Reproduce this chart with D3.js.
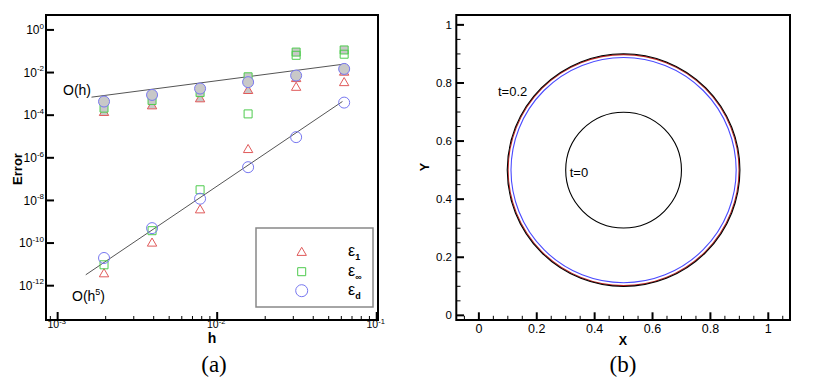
<!DOCTYPE html>
<html><head><meta charset="utf-8">
<script src="https://cdn.jsdelivr.net/npm/d3@7"></script>
<style>body{margin:0;background:#fff}svg{display:block}text{font-family:"Liberation Sans",Arial,sans-serif}text.serif{font-family:"Liberation Serif","Times New Roman",serif}</style>
</head><body>
<svg id="c" width="830" height="389"></svg>
<script>
// ---------- data: panel (a) ----------
const hValues = [1/512, 1/256, 1/128, 1/64, 1/32, 1/16];
// upper group (gray filled), log10 of error
const upperE1 = [-3.84, -3.53, -3.20, -2.81, -2.25, -1.95];
const upperEinf = [-3.67, -3.31, -2.94, -2.20, -1.04, -0.94];
const upperEd = [-3.36, -3.05, -2.75, -2.45, -2.14, -1.83];
// lower group (open markers), log10 of error
const lowerE1 = [-11.41, -9.97, -8.41, -5.58, -2.66, -2.44];
const lowerEinf = [-11.02, -9.42, -7.50, -3.94, -1.19, -1.14];
const lowerEd = [-10.70, -9.30, -7.92, -6.44, -5.03, -3.41];
// reference slope lines [h, error]
const lineOh = [[0.00163, 7.0e-4], [0.064, 2.55e-2]];
const lineOh5 = [[0.0015, 3.24e-12], [0.061, 4.4e-4]];
const yTickExp = [0, -2, -4, -6, -8, -10, -12];
const xTickExp = [-3, -2, -1];
const legendLabels = [["ε", "1"], ["ε", "∞"], ["ε", "d"]];
// ---------- data: panel (b) ----------
const circles = [
  {label: "t=0", cx: 0.5, cy: 0.5, r: 0.2, color: "#000"},
  {label: "t=0.2 red", cx: 0.5, cy: 0.5, r: 0.399, color: "#c02020"},
  {label: "t=0.2 black", cx: 0.5, cy: 0.5, r: 0.402, color: "#000"},
  {label: "t=0.2 blue", cx: 0.5, cy: 0.5, r: 0.389, color: "#4a4aff"}
];
const bTicks = [0, 0.2, 0.4, 0.6, 0.8, 1];
const bTickLabels = ["0", "0.2", "0.4", "0.6", "0.8", "1"];

const svg = d3.select("#c");
const colors = {tri: "#e05a5a", sq: "#4ecb4e", circ: "#7878f0"};
const gray = "#c8c8c8";

// ================= Panel (a) =================
const ax = d3.scaleLog().domain([Math.pow(10, -3.073), Math.pow(10, -0.992)]).range([46, 378]);
const ay = d3.scaleLog().domain([Math.pow(10, -13.61), Math.pow(10, 0.70)]).range([320, 15]);
const A = svg.append("g");

A.append("defs").append("clipPath").attr("id", "clipA")
  .append("rect").attr("x", 46).attr("y", 15).attr("width", 332).attr("height", 305);

A.append("rect").attr("x", 46).attr("y", 15).attr("width", 332).attr("height", 305)
  .attr("fill", "none").attr("stroke", "#000").attr("stroke-width", 2);

yTickExp.forEach(e => {
  const y = ay(Math.pow(10, e));
  A.append("line").attr("x1", 46).attr("x2", 54).attr("y1", y).attr("y2", y).attr("stroke", "#000").attr("stroke-width", 2);
  const t = A.append("text").attr("x", 44).attr("y", y + 4.3).attr("text-anchor", "end").attr("font-size", 12);
  t.append("tspan").text("10");
  t.append("tspan").attr("dy", -5.5).attr("font-size", 8).text(String(e));
});
const xMinor = [];
for (let e = -4; e <= -1; e++) for (let m = 2; m <= 9; m++) {
  const v = m * Math.pow(10, e);
  if (v >= ax.domain()[0] && v <= ax.domain()[1]) xMinor.push(v);
}
xMinor.forEach(v => {
  const x = ax(v);
  A.append("line").attr("x1", x).attr("x2", x).attr("y1", 320).attr("y2", 316).attr("stroke", "#000").attr("stroke-width", 1);
});
xTickExp.forEach(e => {
  const x = ax(Math.pow(10, e));
  A.append("line").attr("x1", x).attr("x2", x).attr("y1", 320).attr("y2", 312).attr("stroke", "#000").attr("stroke-width", 2);
  const t = A.append("text").attr("x", x - 1).attr("y", 328).attr("text-anchor", "middle").attr("font-size", 10.5);
  t.append("tspan").text("10");
  t.append("tspan").attr("dy", -4.5).attr("font-size", 7.5).text(String(e));
});

A.append("text").attr("transform", "translate(22,169) rotate(-90)").attr("text-anchor", "middle")
  .attr("font-size", 13).attr("font-weight", "bold").text("Error");
A.append("text").attr("x", 212).attr("y", 342.5).attr("text-anchor", "middle")
  .attr("font-size", 14).attr("font-weight", "bold").text("h");
A.append("text").attr("class", "serif").attr("x", 214).attr("y", 372).attr("text-anchor", "middle")
  .attr("font-size", 23).text("(a)");

const plotA = A.append("g").attr("clip-path", "url(#clipA)");
const lineGen = d3.line().x(d => ax(d[0])).y(d => ay(d[1]));
[lineOh, lineOh5].forEach(l => plotA.append("path").attr("d", lineGen(l))
  .attr("fill", "none").attr("stroke", "#555").attr("stroke-width", 1));

const triSym = d3.symbol().type(d3.symbolTriangle).size(38);
const sqSym = d3.symbol().type(d3.symbolSquare).size(64);

function drawTri(g, x, y, fill) {
  g.append("path").attr("d", triSym()).attr("transform", `translate(${x},${y + 1})`)
    .attr("fill", fill).attr("stroke", colors.tri).attr("stroke-width", 1);
}
function drawSq(g, x, y, fill) {
  g.append("path").attr("d", sqSym()).attr("transform", `translate(${x},${y})`)
    .attr("fill", fill).attr("stroke", colors.sq).attr("stroke-width", 1);
}
function drawCirc(g, x, y, fill, r) {
  g.append("circle").attr("cx", x).attr("cy", y).attr("r", r || 5.5)
    .attr("fill", fill).attr("stroke", colors.circ).attr("stroke-width", 1);
}
hValues.forEach((h, i) => drawTri(plotA, ax(h), ay(Math.pow(10, upperE1[i])), gray));
hValues.forEach((h, i) => drawSq(plotA, ax(h), ay(Math.pow(10, upperEinf[i])), gray));
hValues.forEach((h, i) => drawCirc(plotA, ax(h), ay(Math.pow(10, upperEd[i])), gray));
hValues.forEach((h, i) => drawTri(plotA, ax(h), ay(Math.pow(10, lowerE1[i])), "none"));
hValues.forEach((h, i) => drawSq(plotA, ax(h), ay(Math.pow(10, lowerEinf[i])), "none"));
hValues.forEach((h, i) => drawCirc(plotA, ax(h), ay(Math.pow(10, lowerEd[i])), "none"));

A.append("text").attr("x", 63).attr("y", 95).attr("font-size", 14).text("O(h)");
const t5 = A.append("text").attr("x", 72).attr("y", 301).attr("font-size", 14);
t5.append("tspan").text("O(h");
t5.append("tspan").attr("dy", -6).attr("font-size", 9).text("5");
t5.append("tspan").attr("dy", 6).text(")");

A.append("rect").attr("x", 256).attr("y", 228).attr("width", 117).attr("height", 79)
  .attr("fill", "#fff").attr("stroke", "#888").attr("stroke-width", 1.5);
const legY = [251.7, 271.7, 290.7];
drawTri(A, 301.7, legY[0], "none");
drawSq(A, 301.7, legY[1], "none");
drawCirc(A, 301.7, legY[2], "none", 6);
legendLabels.forEach((l, i) => {
  const t = A.append("text").attr("x", 348).attr("y", legY[i] + 4).attr("font-size", 16);
  t.append("tspan").text(l[0]);
  t.append("tspan").attr("dy", 4).attr("font-size", 9).attr("font-weight", "bold").text(l[1]);
});

// ================= Panel (b) =================
const bx = d3.scaleLinear().domain([-0.078, 1.075]).range([456.3, 790]);
const by = d3.scaleLinear().domain([-0.016, 1.034]).range([320, 15]);
const B = svg.append("g");
B.append("rect").attr("x", 456.3).attr("y", 15).attr("width", 790 - 456.3).attr("height", 305)
  .attr("fill", "none").attr("stroke", "#000").attr("stroke-width", 2);
const minorB = d3.range(-0.05, 1.0501, 0.05).filter(v => Math.abs(Math.round(v * 5) - v * 5) > 0.01);
minorB.filter(v => v >= by.domain()[0] && v <= by.domain()[1]).forEach(v => {
  B.append("line").attr("x1", 456.3).attr("x2", 460.5).attr("y1", by(v)).attr("y2", by(v)).attr("stroke", "#000").attr("stroke-width", 1);
});
minorB.filter(v => v >= bx.domain()[0] && v <= bx.domain()[1]).forEach(v => {
  B.append("line").attr("x1", bx(v)).attr("x2", bx(v)).attr("y1", 320).attr("y2", 315.8).attr("stroke", "#000").attr("stroke-width", 1);
});
bTicks.forEach((v, i) => {
  B.append("line").attr("x1", 456.3).attr("x2", 464).attr("y1", by(v)).attr("y2", by(v)).attr("stroke", "#000").attr("stroke-width", 2);
  B.append("line").attr("x1", bx(v)).attr("x2", bx(v)).attr("y1", 320).attr("y2", 312.3).attr("stroke", "#000").attr("stroke-width", 2);
  B.append("text").attr("x", 452).attr("y", by(v) + 4).attr("text-anchor", "end").attr("font-size", 11.5).text(bTickLabels[i]);
  B.append("text").attr("x", bx(v)).attr("y", 333).attr("text-anchor", "middle").attr("font-size", 12.5).text(bTickLabels[i]);
});
B.append("text").attr("transform", "translate(429,167) rotate(-90)").attr("text-anchor", "middle")
  .attr("font-size", 12.5).attr("font-weight", "bold").text("Y");
B.append("text").attr("x", 623).attr("y", 345).attr("text-anchor", "middle")
  .attr("font-size", 12.5).attr("font-weight", "bold").text("X");
B.append("text").attr("class", "serif").attr("x", 623).attr("y", 372).attr("text-anchor", "middle")
  .attr("font-size", 23).text("(b)");

const pxPerUnit = bx(1) - bx(0);
circles.forEach(c => {
  B.append("circle").attr("cx", bx(c.cx)).attr("cy", by(c.cy)).attr("r", c.r * pxPerUnit)
    .attr("fill", "none").attr("stroke", c.color).attr("stroke-width", 1.1);
});
B.append("text").attr("x", bx(0.066)).attr("y", by(0.754)).attr("font-size", 13).text("t=0.2");
B.append("text").attr("x", bx(0.314)).attr("y", by(0.478)).attr("font-size", 13).text("t=0");
</script>
</body></html>
